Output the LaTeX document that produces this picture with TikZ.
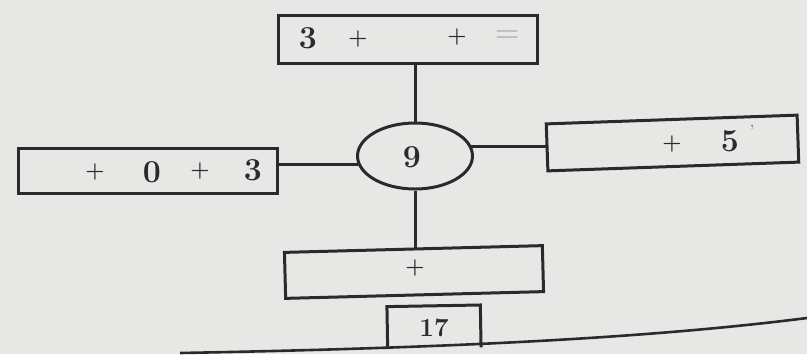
\documentclass[tikz,border=0pt]{standalone}
\usepackage{tikz}
\usetikzlibrary{shapes.geometric}
\definecolor{paper}{HTML}{E7E7E5}
\definecolor{ink}{HTML}{2A2A2A}
\tikzset{
  boxshape/.style={draw=ink, line width=3pt, rectangle, inner sep=0pt},
  lbl/.style={text=ink, font=\fontsize{32}{34}\selectfont\bfseries, inner sep=0pt},
  plus/.style={text=ink, font=\fontsize{22}{24}\selectfont\bfseries, inner sep=0pt},
  faint/.style={text=ink!35, font=\fontsize{28}{30}\selectfont\bfseries, inner sep=0pt},
  link/.style={draw=ink, line width=3pt}
}
\begin{document}
\begin{tikzpicture}[x=1pt,y=-1pt]
\fill[paper] (0,0) rectangle (807,354);
\useasboundingbox (0,0) rectangle (807,354);
% boxes
\node[boxshape, minimum width=259pt, minimum height=48pt] (tb) at (407.5,39) {};
\node[boxshape, minimum width=259pt, minimum height=45pt] (lb) at (147.5,170.5) {};
\node[draw=ink, line width=3pt, ellipse, minimum width=115pt, minimum height=66pt, inner sep=0pt] (e) at (415,156) {};
\node[boxshape, minimum width=251pt, minimum height=47pt, rotate=2] (rb) at (672.5,143) {};
\node[boxshape, minimum width=258pt, minimum height=46pt, rotate=1.5] (bb) at (414,272) {};
\node[inner sep=0pt, minimum width=93pt, minimum height=42pt, rotate=1] (sb) at (434,327) {};
\draw[link] (sb.south west) -- (sb.north west) -- (sb.north east) -- (sb.south east);
% connectors
\draw[link] (tb.south -| e.north) -- (e.north);
\draw[link] (e.188) -- (e.188 -| lb.east);
\draw[link] (e.10) -- (e.10 -| rb.west);
\draw[link] (e.south) -- (bb.north -| e.south);
% bottom line
\coordinate (bl) at (180,353);
\coordinate (br) at (807,318);
\draw[draw=ink, line width=2.6pt] (bl) .. controls (450,348) and (650,338) .. (br);
% texts
\node[lbl] (e9) at (412,157) {9};
\node[lbl] (t3) at (308,38) {3};
\node[plus] (tp1) at (358,39) {+};
\node[plus] (tp2) at (457,37) {+};
\node[faint] (teq) at (507,36) {=};
\node[plus] (lp1) at (95,172) {+};
\node[lbl] (l0) at (152,172) {0};
\node[plus] (lp2) at (200,171) {+};
\node[lbl] (l3) at (253,170) {3};
\node[plus] (rp) at (672,144) {+};
\node[lbl] (r5) at (730,141) {5};
\node[lbl, font=\fontsize{16}{18}\selectfont] (rq) at (752,131) {'};
\node[plus] (bp) at (415,268) {+};
\node[lbl, font=\fontsize{26}{28}\selectfont\bfseries] (s17) at (434,328) {17};
\end{tikzpicture}
\end{document}
